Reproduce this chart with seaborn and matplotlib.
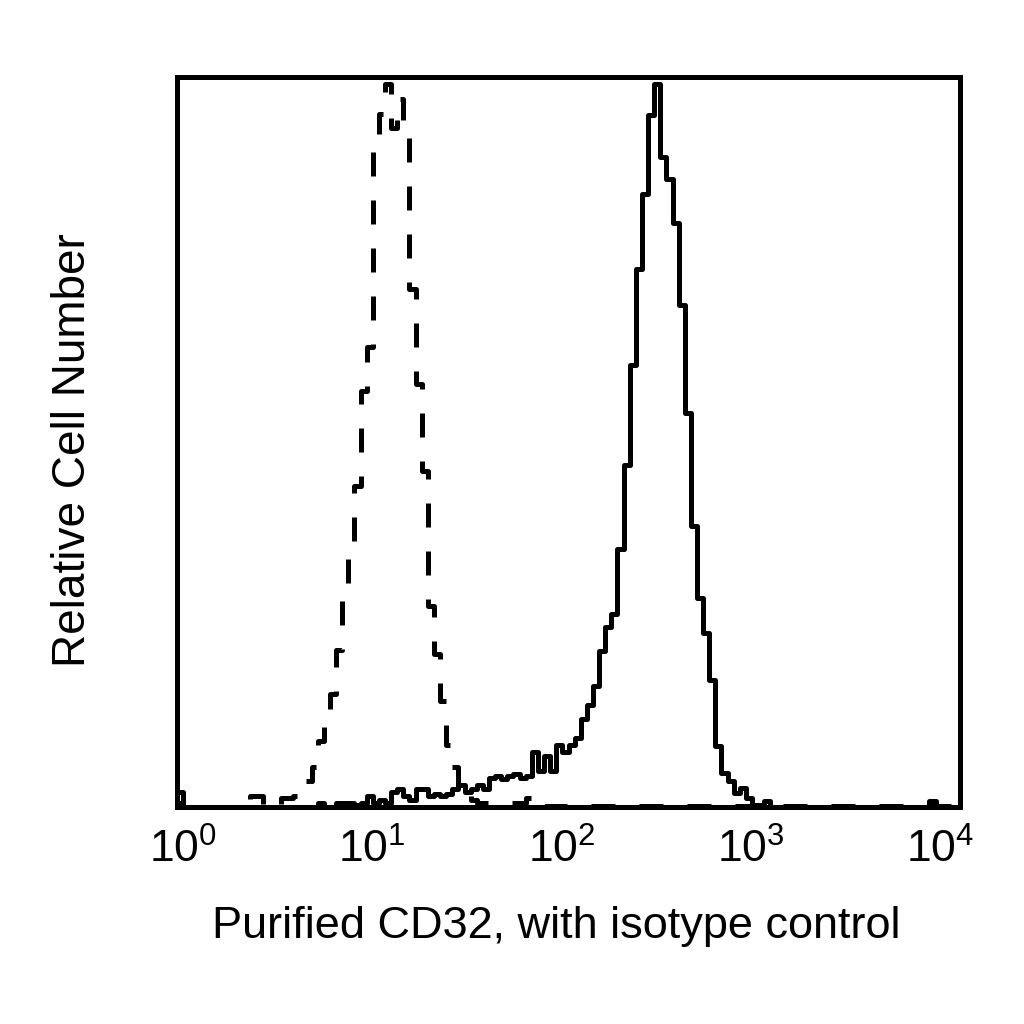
import numpy as np
import pandas as pd
import matplotlib
matplotlib.use("Agg")
import matplotlib.pyplot as plt
import seaborn as sns

# 128 log-spaced channels (relative cell number, 0-100)
isotype = [
    2.0, 0, 0, 0, 0, 0, 0, 0, 0, 0, 0, 0, 1.5, 1.5, 0, 0,
    0, 1.2, 1.2, 1.5, 2.3, 3.5, 5.5, 9.0, 12.5, 15.5, 21.5, 29.0, 36.0, 44.0, 57.0, 63.0,
    90.0, 95.0, 99.0, 93.0, 97.0, 93.0, 71.0, 58.0, 46.0, 27.5, 21.0, 14.5, 8.5, 5.5, 3.0, 1.5,
    1.0, 0.5, 0.5, 0.5, 0.5, 0.5, 0.5, 0.5, 0.5, 1.2, 1.5, 0.8, 0.2, 0.2, 0.2, 0.2,
    0.1, 0.1, 0.1, 0.1, 0.1, 0.1, 0.1, 0.1, 0.1, 0.1, 0.1, 0.1, 0.1, 0.1, 0.1, 0.1,
    0.1, 0.1, 0.1, 0.1, 0.1, 0.1, 0.1, 0.1, 0.1, 0.1, 0.1, 0.1, 0.1, 0.1, 0.1, 0.1,
    0.1, 0.1, 0.1, 0.1, 0.1, 0.1, 0.1, 0.1, 0.1, 0.1, 0.1, 0.1, 0.1, 0.1, 0.1, 0.1,
    0.1, 0.1, 0.1, 0.1, 0.1, 0.1, 0.1, 0.1, 0.1, 0.1, 0.1, 0.1, 0.1, 0.1, 0.1, 0.1,
]
cd32 = [
    0.5, 0, 0, 0, 0, 0, 0, 0, 0, 0, 0, 0, 0, 0, 0, 0,
    0, 0, 0, 0, 0, 0, 0, 0.5, 0, 0, 0.5, 0.5, 0.5, 0.3, 0.5, 1.5,
    0.5, 1.0, 0.5, 2.0, 2.5, 1.5, 1.0, 2.5, 2.5, 1.5, 1.8, 1.5, 1.8, 2.5, 3.0, 2.0,
    2.5, 3.0, 2.5, 4.0, 4.3, 3.8, 4.3, 4.5, 4.0, 4.2, 7.5, 5.0, 7.0, 5.0, 8.5, 7.5,
    8.5, 9.5, 12.0, 14.0, 16.6, 21.4, 24.7, 26.5, 35.4, 46.8, 60.5, 73.7, 84.0, 94.8, 99.0, 89.0,
    86.0, 80.0, 68.7, 54.0, 38.5, 28.7, 23.9, 17.4, 8.4, 4.7, 3.6, 1.9, 2.6, 1.2, 0.3, 0.3,
    0.8, 0, 0, 0, 0, 0, 0, 0, 0, 0, 0, 0, 0, 0, 0, 0,
    0, 0, 0, 0, 0, 0, 0, 0, 0, 0, 0, 0.8, 0, 0, 0, 0,
]
tick_values = [1, 10, 100, 1000, 10000]

# axis range in log10 units (labels sit slightly inside the frame)
lo, hi = -0.032, 4.106
n_bins = len(cd32)
edges = np.linspace(lo, hi, n_bins + 1)
centers = 10 ** ((edges[:-1] + edges[1:]) / 2)

df = pd.DataFrame({"intensity": np.concatenate([centers, centers]),
                   "count": isotype + cd32,
                   "sample": ["isotype"] * n_bins + ["CD32"] * n_bins})

sns.set_theme(style="white")
plt.rcParams["font.family"] = ["Liberation Sans", "DejaVu Sans"]
plt.rcParams["mathtext.fontset"] = "custom"
plt.rcParams["mathtext.rm"] = "Liberation Sans"
plt.rcParams["mathtext.default"] = "regular"

fig = plt.figure(figsize=(10.24, 10.24), dpi=100)
ax = fig.add_axes([0.1729, 0.2119, 0.7646, 0.7129])

sns.histplot(data=df[df["sample"] == "isotype"], x="intensity", weights="count",
             bins=n_bins, binrange=(lo, hi), log_scale=True, element="step",
             fill=False, color="black", linewidth=3.6, linestyle=(0, (4.8, 4.8)), ax=ax)
sns.histplot(data=df[df["sample"] == "CD32"], x="intensity", weights="count",
             bins=n_bins, binrange=(lo, hi), log_scale=True, element="step",
             fill=False, color="black", linewidth=3.6, ax=ax)

ax.set_xlim(10 ** lo, 10 ** hi)
ax.set_ylim(0, 100)
ax.set_xticks(tick_values)
ax.minorticks_off()
ax.set_yticks([])
ax.tick_params(axis="x", length=0, pad=15.5, labelsize=32, colors="black")

for s in ax.spines.values():
    s.set_color("black")
    s.set_linewidth(3.6)

ax.set_xlabel("Purified CD32, with isotype control", fontsize=32.5, labelpad=25,
              color="black", x=0.484)
ax.set_ylabel("Relative Cell Number", fontsize=33, color="black")
ax.yaxis.set_label_coords(-0.105, 0.489)

fig.savefig("out.png", dpi=100)
